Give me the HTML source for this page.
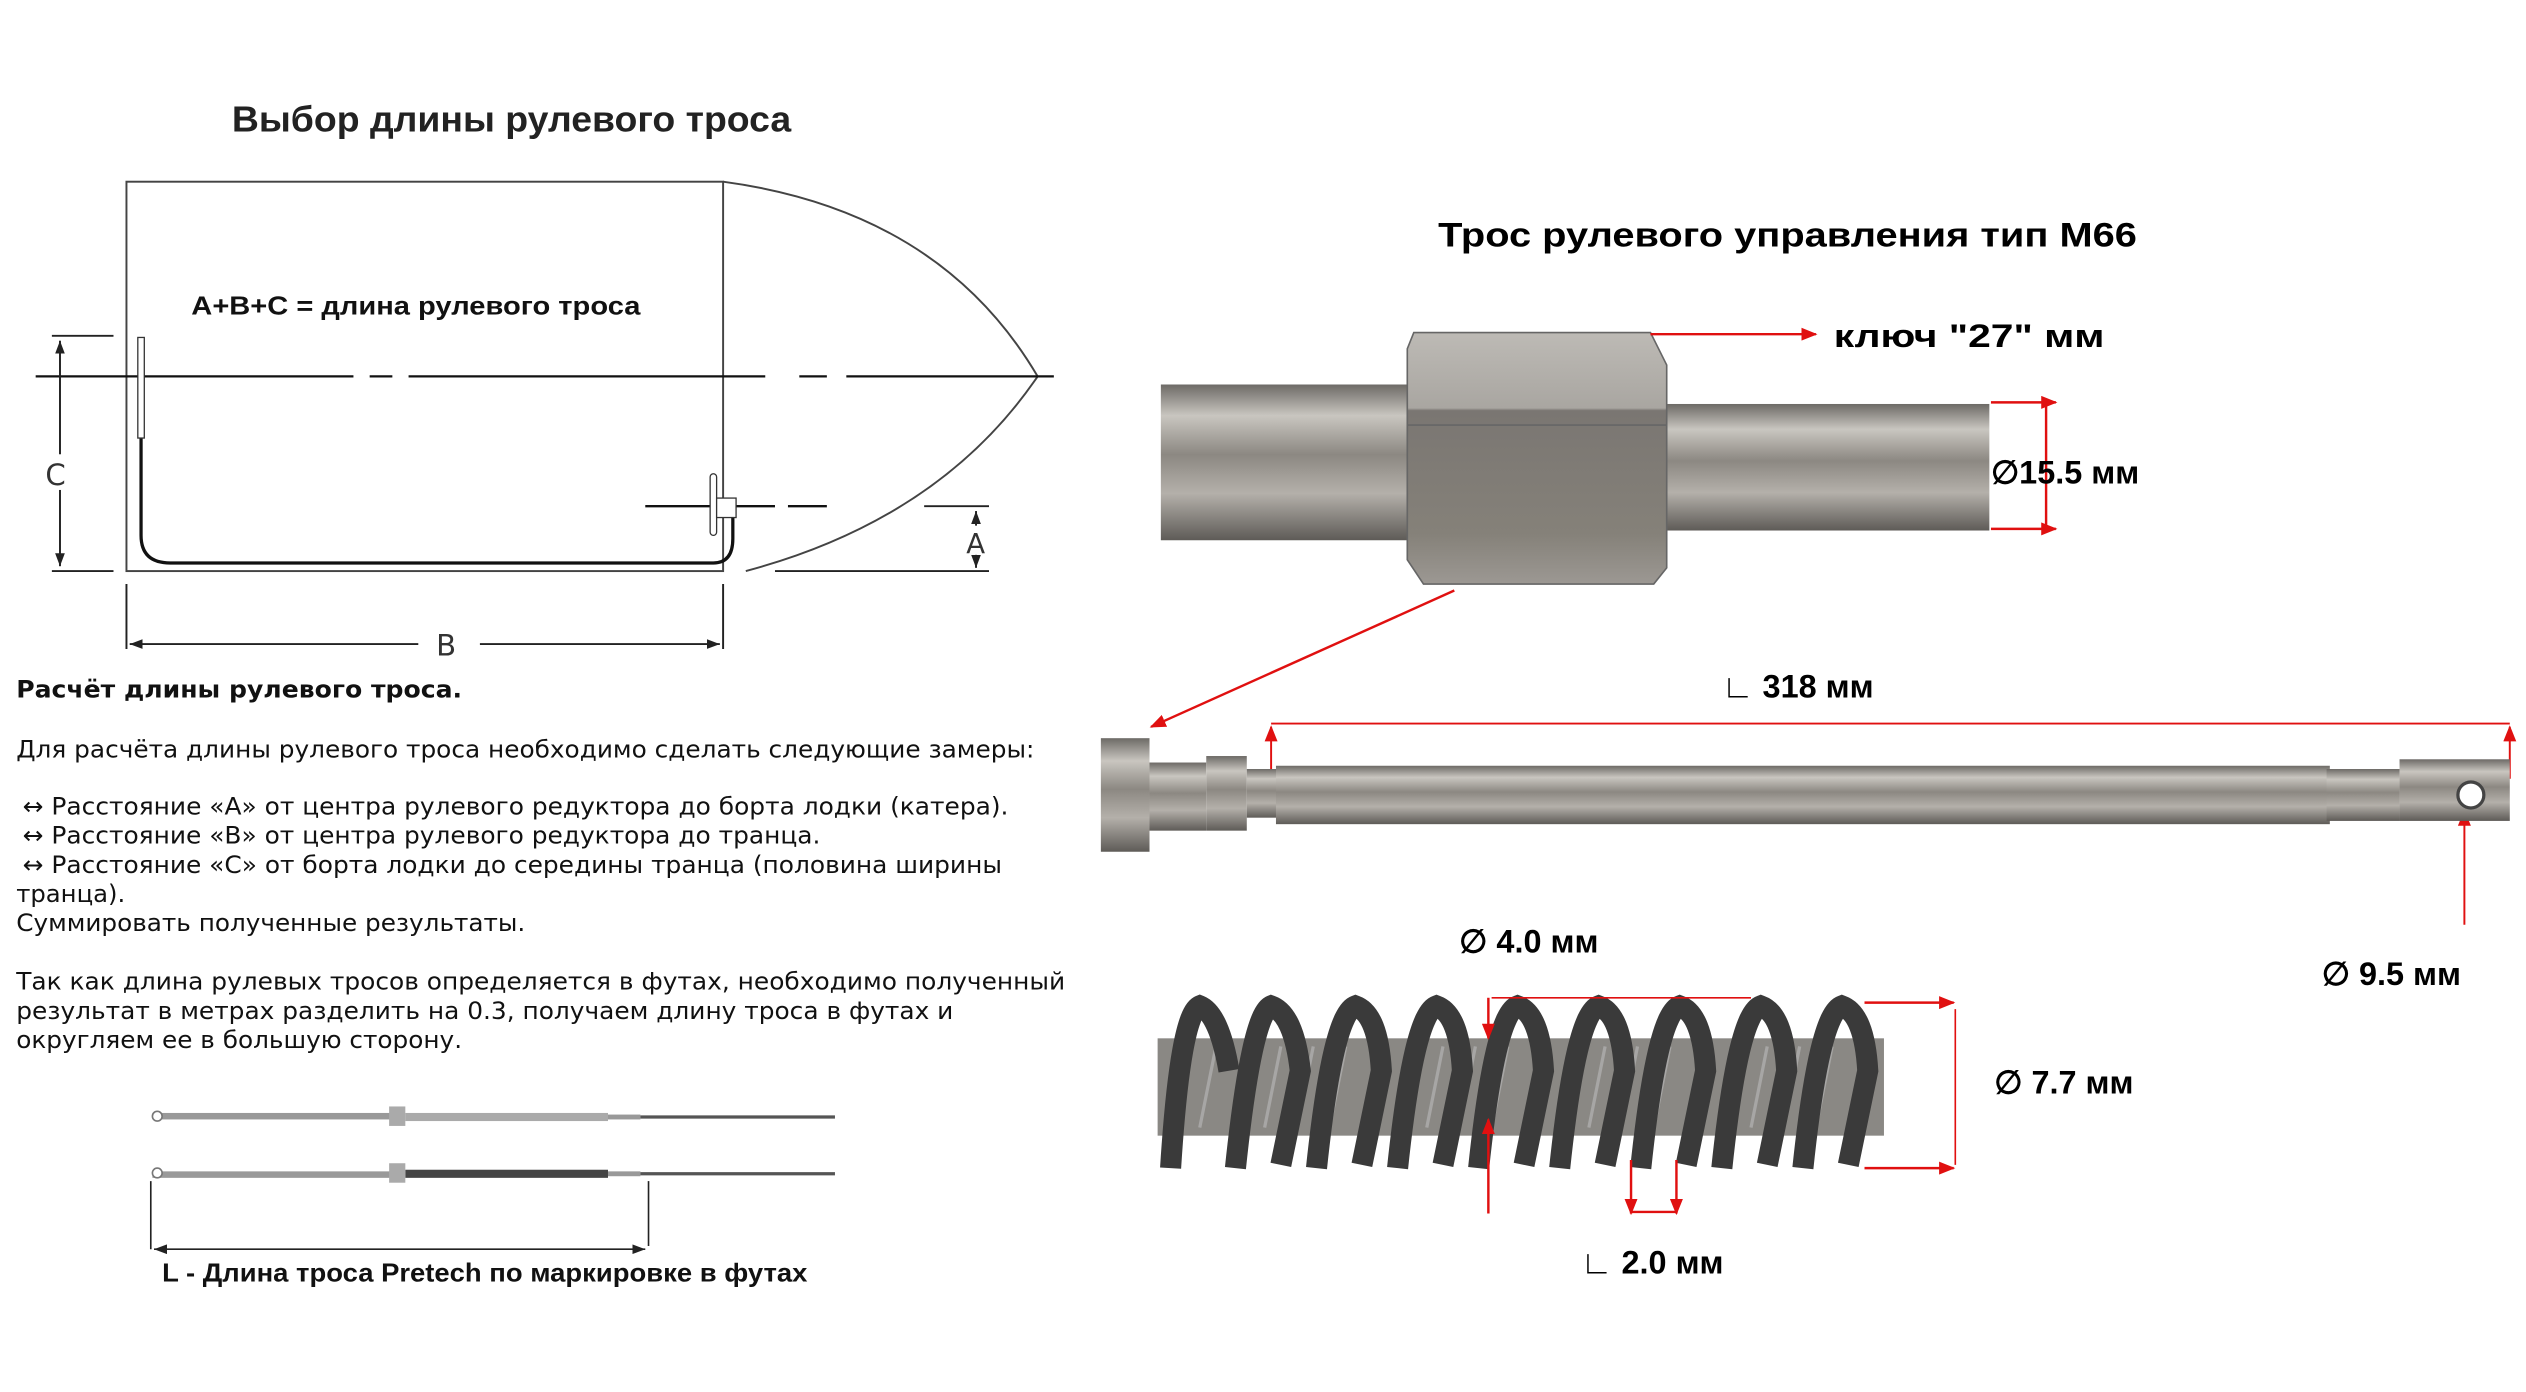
<!DOCTYPE html>
<html><head><meta charset="utf-8"><style>
html,body{margin:0;padding:0;background:#fff;}
svg{display:block;}
text{font-family:"DejaVu Sans","Liberation Sans",sans-serif;}
.b{font-family:"Liberation Sans",sans-serif;font-weight:bold;}
</style></head><body>
<svg width="2526" height="1392" viewBox="0 0 1558 858" preserveAspectRatio="none" xmlns="http://www.w3.org/2000/svg">
<defs>
<linearGradient id="steel" x1="0" y1="0" x2="0" y2="1">
<stop offset="0" stop-color="#6d6a66"/><stop offset="0.2" stop-color="#c9c6c0"/><stop offset="0.45" stop-color="#8c8882"/><stop offset="0.7" stop-color="#b4b0aa"/><stop offset="1" stop-color="#5e5b57"/></linearGradient>
<linearGradient id="nut" x1="0" y1="0" x2="0" y2="1">
<stop offset="0" stop-color="#bdbab5"/><stop offset="0.3" stop-color="#a9a6a1"/><stop offset="0.31" stop-color="#7a7672"/><stop offset="0.8" stop-color="#858179"/><stop offset="1" stop-color="#9c9893"/></linearGradient>
<marker id="ar" markerWidth="10" markerHeight="8" refX="9" refY="4" orient="auto" markerUnits="userSpaceOnUse"><path d="M0,0 L10,4 L0,8z" fill="#e01010"/></marker>
<marker id="ak" markerWidth="8" markerHeight="6" refX="8" refY="3" orient="auto-start-reverse" markerUnits="userSpaceOnUse"><path d="M0,0 L8,3 L0,6z" fill="#222"/></marker>
</defs>

<text x="143" y="81" font-size="22" class="b" fill="#222" textLength="345" lengthAdjust="spacingAndGlyphs">Выбор длины рулевого троса</text>
<g stroke="#444" stroke-width="1.2" fill="none">
<rect x="78" y="112" width="368" height="240"/>
<path d="M446,112 Q580,130 640,232 Q580,320 460,352"/>
</g>
<g stroke="#111" stroke-width="1.4">
<line x1="22" y1="232" x2="218" y2="232"/><line x1="228" y1="232" x2="242" y2="232"/><line x1="252" y1="232" x2="472" y2="232"/><line x1="493" y1="232" x2="510" y2="232"/><line x1="522" y1="232" x2="650" y2="232"/>
<line x1="398" y1="312" x2="478" y2="312"/><line x1="486" y1="312" x2="510" y2="312"/>
</g>
<text x="118" y="194" font-size="16" class="b" fill="#111" textLength="277" lengthAdjust="spacingAndGlyphs">A+B+C = длина рулевого троса</text>
<path d="M87,270 L87,330 Q87,347 105,347 L440,347 Q452,347 452,332 L452,318" stroke="#111" stroke-width="2" fill="none"/>
<rect x="85" y="208" width="4" height="62" fill="#fff" stroke="#333" stroke-width="0.8"/>
<rect x="438" y="292" width="4" height="38" rx="2" fill="#fff" stroke="#333" stroke-width="0.8"/>
<rect x="442" y="307" width="12" height="12" fill="#fff" stroke="#333" stroke-width="0.8"/>
<g stroke="#222" stroke-width="1.2">
<line x1="32" y1="207" x2="70" y2="207"/><line x1="32" y1="352" x2="70" y2="352"/>
<line x1="37" y1="210" x2="37" y2="280" marker-start="url(#ak)"/><line x1="37" y1="302" x2="37" y2="349" marker-end="url(#ak)"/>
<line x1="78" y1="360" x2="78" y2="400"/><line x1="446" y1="360" x2="446" y2="400"/>
<line x1="80" y1="397" x2="258" y2="397" marker-start="url(#ak)"/><line x1="296" y1="397" x2="444" y2="397" marker-end="url(#ak)"/>
<line x1="478" y1="352" x2="610" y2="352"/><line x1="570" y1="312" x2="610" y2="312"/>
<line x1="602" y1="315" x2="602" y2="324" marker-start="url(#ak)"/><line x1="602" y1="342" x2="602" y2="350" marker-end="url(#ak)"/>
</g>
<text x="28" y="299" font-size="18" fill="#333" font-family="Liberation Sans">C</text>
<text x="269" y="404" font-size="18" fill="#333" font-family="Liberation Sans">B</text>
<text x="596" y="341" font-size="17" fill="#333" font-family="Liberation Sans">A</text>

<g font-size="15" fill="#111">
<text x="10" y="430" font-weight="bold" textLength="275" lengthAdjust="spacingAndGlyphs">Расчёт длины рулевого троса.</text>
<text x="10" y="467" textLength="628" lengthAdjust="spacingAndGlyphs">Для расчёта длины рулевого троса необходимо сделать следующие замеры:</text>
<text x="14" y="502" textLength="608" lengthAdjust="spacingAndGlyphs">↔ Расстояние «А» от центра рулевого редуктора до борта лодки (катера).</text>
<text x="14" y="520" textLength="492" lengthAdjust="spacingAndGlyphs">↔ Расстояние «В» от центра рулевого редуктора до транца.</text>
<text x="14" y="538" textLength="604" lengthAdjust="spacingAndGlyphs">↔ Расстояние «С» от борта лодки до середины транца (половина ширины</text>
<text x="10" y="556">транца).</text>
<text x="10" y="574" textLength="314" lengthAdjust="spacingAndGlyphs">Суммировать полученные результаты.</text>
<text x="10" y="610" textLength="647" lengthAdjust="spacingAndGlyphs">Так как длина рулевых тросов определяется в футах, необходимо полученный</text>
<text x="10" y="628" textLength="578" lengthAdjust="spacingAndGlyphs">результат в метрах разделить на 0.3, получаем длину троса в футах и</text>
<text x="10" y="646" textLength="275" lengthAdjust="spacingAndGlyphs">округляем ее в большую сторону.</text>
</g>
<g>
<rect x="94" y="686" width="150" height="4" fill="#999"/><rect x="250" y="686" width="125" height="5" fill="#aaa"/><rect x="375" y="687" width="20" height="3" fill="#999"/><line x1="395" y1="688.5" x2="515" y2="688.5" stroke="#555" stroke-width="2"/>
<rect x="240" y="682" width="10" height="12" fill="#aaa"/><circle cx="97" cy="688" r="3" fill="#fff" stroke="#777"/>
<rect x="94" y="722" width="150" height="4" fill="#999"/><rect x="250" y="721" width="125" height="5" fill="#444"/><rect x="375" y="722" width="20" height="3" fill="#999"/><line x1="395" y1="723.5" x2="515" y2="723.5" stroke="#555" stroke-width="2"/>
<rect x="240" y="717" width="10" height="12" fill="#aaa"/><circle cx="97" cy="723" r="3" fill="#fff" stroke="#777"/>
</g>
<g stroke="#222" stroke-width="1">
<line x1="93" y1="728" x2="93" y2="770"/><line x1="400" y1="728" x2="400" y2="768"/>
<line x1="95" y1="770" x2="398" y2="770" marker-start="url(#ak)" marker-end="url(#ak)"/>
</g>
<text x="100" y="790" font-size="16" class="b" fill="#111" textLength="398" lengthAdjust="spacingAndGlyphs">L - Длина троса Pretech по маркировке в футах</text>

<text x="887" y="152" font-size="21" class="b" fill="#000" textLength="431" lengthAdjust="spacingAndGlyphs">Трос рулевого управления тип М66</text>
<rect x="716" y="237" width="155" height="96" fill="url(#steel)"/>
<rect x="1020" y="249" width="207" height="78" fill="url(#steel)"/>
<path d="M872,205 L1018,205 L1028,225 L1028,350 L1020,360 L878,360 L868,345 L868,215z" fill="url(#nut)" stroke="#666"/>
<line x1="868" y1="262" x2="1028" y2="262" stroke="#666"/>
<line x1="1018" y1="206" x2="1120" y2="206" stroke="#e01010" stroke-width="1.5" marker-end="url(#ar)"/>
<text x="1131" y="214" font-size="20" class="b" textLength="167" lengthAdjust="spacingAndGlyphs">ключ "27" мм</text>
<g stroke="#e01010" stroke-width="1.5">
<line x1="1228" y1="248" x2="1268" y2="248" marker-end="url(#ar)"/><line x1="1228" y1="326" x2="1268" y2="326" marker-end="url(#ar)"/><line x1="1262" y1="248" x2="1262" y2="326"/>
</g>
<text x="1228" y="298" font-size="20" class="b">∅15.5 мм</text>
<line x1="897" y1="364" x2="710" y2="448" stroke="#e01010" stroke-width="1.5" marker-end="url(#ar)"/>
<text x="1062" y="430" font-size="20" class="b">∟ 318 мм</text>
<g stroke="#e01010" stroke-width="1.2">
<line x1="784" y1="446" x2="1548" y2="446"/>
<line x1="784" y1="480" x2="784" y2="448" marker-end="url(#ar)"/><line x1="1548" y1="480" x2="1548" y2="448" marker-end="url(#ar)"/>
<line x1="1520" y1="570" x2="1520" y2="500" marker-end="url(#ar)"/>
</g>
<rect x="679" y="455" width="30" height="70" fill="url(#steel)"/>
<rect x="709" y="470" width="35" height="42" fill="url(#steel)"/>
<rect x="744" y="466" width="25" height="46" fill="url(#steel)"/>
<rect x="769" y="474" width="20" height="30" fill="url(#steel)"/>
<rect x="787" y="472" width="650" height="36" fill="url(#steel)"/>
<rect x="1435" y="474" width="45" height="32" fill="url(#steel)"/>
<rect x="1480" y="468" width="68" height="38" fill="url(#steel)"/>
<circle cx="1524" cy="490" r="8" fill="#fff" stroke="#444" stroke-width="2"/>
<text x="1432" y="607" font-size="20" class="b">∅ 9.5 мм</text>
<rect x="714" y="640" width="448" height="60" fill="#8a8884"/>
<g stroke="#bbb" stroke-width="2" opacity="0.6">
<path d="M730,645 l-10,50 M750,645 l-10,50 M770,645 l-10,50 M790,645 l-10,50 M810,645 l-10,50 M830,645 l-10,50 M850,645 l-10,50 M870,645 l-10,50 M890,645 l-10,50 M910,645 l-10,50 M930,645 l-10,50 M950,645 l-10,50 M970,645 l-10,50 M990,645 l-10,50 M1010,645 l-10,50 M1030,645 l-10,50 M1050,645 l-10,50 M1070,645 l-10,50 M1090,645 l-10,50 M1110,645 l-10,50 M1130,645 l-10,50 M1150,645 l-10,50"/>
</g>
<g fill="none" stroke="#3a3a3a" stroke-width="13">
<path d="M722,720 Q728,625 740,620 Q752,625 758,660"/>
<path d="M762,720 Q772,625 784,620 Q798,625 802,660 L790,718"/>
<path d="M812,720 Q822,625 836,620 Q850,625 852,660 L840,718"/>
<path d="M862,720 Q872,625 886,620 Q900,625 902,660 L890,718"/>
<path d="M912,720 Q922,625 936,620 Q950,625 952,660 L940,718"/>
<path d="M962,720 Q972,625 986,620 Q1000,625 1002,660 L990,718"/>
<path d="M1012,720 Q1022,625 1036,620 Q1050,625 1052,660 L1040,718"/>
<path d="M1062,720 Q1072,625 1086,620 Q1100,625 1102,660 L1090,718"/>
<path d="M1112,720 Q1122,625 1136,620 Q1150,625 1152,660 L1140,718"/>
</g>
<g stroke="#e01010" stroke-width="1.5">
<line x1="920" y1="615" x2="1080" y2="615" stroke-width="1"/>
<line x1="918" y1="615" x2="918" y2="640" marker-end="url(#ar)"/>
<line x1="918" y1="748" x2="918" y2="690" marker-end="url(#ar)"/>
<line x1="1150" y1="618" x2="1205" y2="618" marker-end="url(#ar)"/>
<line x1="1150" y1="720" x2="1205" y2="720" marker-end="url(#ar)"/>
<line x1="1206" y1="622" x2="1206" y2="718" stroke-width="1"/>
<line x1="1006" y1="715" x2="1006" y2="748" marker-end="url(#ar)"/>
<line x1="1034" y1="715" x2="1034" y2="748" marker-end="url(#ar)"/>
<line x1="1006" y1="747" x2="1034" y2="747"/>
</g>
<text x="900" y="587" font-size="20" class="b">∅ 4.0 мм</text>
<text x="1230" y="674" font-size="20" class="b">∅ 7.7 мм</text>
<text x="975" y="785" font-size="20" class="b">∟ 2.0 мм</text>
</svg>
</body></html>
